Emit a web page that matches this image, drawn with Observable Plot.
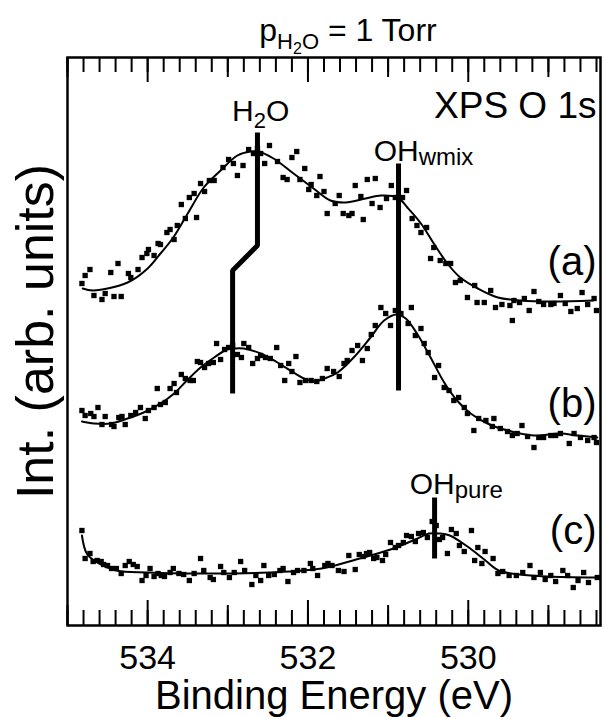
<!DOCTYPE html>
<html>
<head>
<meta charset="utf-8">
<script src="https://cdn.jsdelivr.net/npm/d3@7"></script>
<script src="https://cdn.jsdelivr.net/npm/@observablehq/plot@0.6"></script>
<style>
  html, body { margin: 0; padding: 0; background: #fff; }
  #chart svg { display: block; }
</style>
</head>
<body>
<div id="chart"></div>
<script>
// ---- Data: [binding energy (eV), intensity (arb. units)] ----
const spectrumA = [[534.82,342],[534.78,350],[534.72,356],[534.67,330],[534.57,326],[534.53,332],[534.46,353],[534.42,329],[534.37,362],[534.33,329],[534.24,352],[534.21,348],[534.12,356],[534.07,368],[534.01,372],[533.99,376],[533.92,370],[533.87,382],[533.84,381],[533.76,393],[533.72,396],[533.67,386],[533.63,400],[533.58,421],[533.53,407],[533.48,428],[533.42,432],[533.39,408],[533.34,442],[533.29,434],[533.23,445],[533.17,445],[533.06,458],[532.99,466],[532.93,462],[532.88,450],[532.81,460],[532.74,476],[532.68,472],[532.63,477],[532.59,472],[532.54,462],[532.48,480],[532.38,464],[532.31,448],[532.26,446],[532.20,468],[532.14,474],[532.10,446],[532.04,457],[531.99,436],[531.96,441],[531.89,430],[531.85,449],[531.80,434],[531.76,412],[531.66,422],[531.61,430],[531.56,412],[531.49,410],[531.45,412],[531.41,440],[531.34,429],[531.31,406],[531.26,446],[531.20,422],[531.16,447],[531.10,418],[531.02,427],[530.96,440],[530.91,428],[530.82,428],[530.77,435],[530.70,407],[530.64,400],[530.59,393],[530.52,398],[530.47,367],[530.43,378],[530.35,365],[530.28,362],[530.22,362],[530.16,343],[530.10,345],[530.01,328],[529.92,340],[529.89,323],[529.80,323],[529.72,335],[529.66,318],[529.58,321],[529.48,320],[529.45,305],[529.43,325],[529.36,323],[529.30,327],[529.24,315],[529.18,334],[529.12,324],[529.06,321],[528.97,321],[528.93,322],[528.85,330],[528.79,322],[528.72,314],[528.64,317],[528.58,333],[528.51,321],[528.43,327],[528.40,315]];
const fitA = [[534.81,337],[534.68,335],[534.25,343],[534.00,357],[533.84,372],[533.68,388],[533.50,412],[533.30,438],[533.09,455],[532.88,470],[532.72,474],[532.62,474],[532.43,467],[532.18,452],[531.93,437],[531.72,425],[531.53,423],[531.28,427],[531.09,430],[530.88,428],[530.76,418],[530.59,402],[530.43,382],[530.26,362],[530.10,348],[529.88,337],[529.63,328],[529.35,325],[528.94,324],[528.44,325]];

const spectrumB = [[534.82,215],[534.78,210],[534.71,212],[534.67,209],[534.62,218],[534.57,201],[534.53,209],[534.45,201],[534.42,199],[534.36,208],[534.32,209],[534.28,201],[534.21,210],[534.15,213],[534.09,218],[534.03,207],[533.99,215],[533.92,218],[533.88,237],[533.84,221],[533.78,223],[533.72,237],[533.67,242],[533.64,233],[533.58,251],[533.53,247],[533.47,245],[533.43,245],[533.38,264],[533.34,263],[533.29,258],[533.24,262],[533.18,263],[533.14,282],[533.09,266],[533.04,276],[532.99,278],[532.94,280],[532.88,271],[532.83,268],[532.80,282],[532.74,278],[532.69,262],[532.63,267],[532.59,270],[532.53,268],[532.47,267],[532.39,278],[532.34,260],[532.29,245],[532.24,262],[532.20,254],[532.15,269],[532.10,243],[532.03,245],[531.96,245],[531.89,244],[531.82,247],[531.76,257],[531.68,254],[531.61,249],[531.55,262],[531.51,265],[531.45,275],[531.38,280],[531.32,265],[531.26,277],[531.21,291],[531.16,300],[531.09,318],[531.03,312],[530.97,300],[530.91,315],[530.84,312],[530.75,302],[530.71,318],[530.66,290],[530.59,297],[530.55,282],[530.50,273],[530.42,248],[530.37,260],[530.30,238],[530.24,235],[530.18,225],[530.12,228],[530.05,218],[530.01,212],[529.93,195],[529.87,207],[529.78,205],[529.70,199],[529.68,207],[529.60,197],[529.51,194],[529.45,190],[529.39,192],[529.33,200],[529.26,189],[529.18,178],[529.12,188],[529.06,188],[528.97,190],[528.91,190],[528.85,192],[528.74,182],[528.68,192],[528.60,188],[528.51,185],[528.43,188],[528.40,183]];
const fitB = [[534.82,204],[534.67,202],[534.46,202],[534.25,207],[534.05,213],[533.84,222],[533.67,232],[533.51,245],[533.34,258],[533.17,268],[533.01,276],[532.92,277],[532.80,277],[532.59,272],[532.38,263],[532.18,253],[532.05,247],[531.93,244],[531.76,248],[531.63,253],[531.43,268],[531.22,288],[531.05,305],[530.89,311],[530.78,307],[530.64,292],[530.47,268],[530.30,243],[530.14,225],[529.97,212],[529.76,202],[529.51,195],[529.18,190],[528.85,192],[528.64,190],[528.39,188]];

const spectrumC = [[534.82,95],[534.78,67],[534.72,72],[534.68,64],[534.63,65],[534.58,64],[534.55,61],[534.50,60],[534.45,57],[534.39,57],[534.33,52],[534.28,60],[534.23,64],[534.18,61],[534.13,59],[534.07,45],[534.02,50],[533.97,57],[533.92,49],[533.87,52],[533.83,50],[533.79,49],[533.72,53],[533.68,57],[533.61,52],[533.55,51],[533.48,45],[533.42,52],[533.34,67],[533.30,55],[533.22,48],[533.18,46],[533.09,59],[533.05,53],[532.98,48],[532.92,53],[532.84,64],[532.79,55],[532.70,41],[532.65,50],[532.59,45],[532.55,60],[532.49,50],[532.42,51],[532.35,55],[532.31,57],[532.25,44],[532.18,53],[532.13,55],[532.05,55],[531.97,62],[531.94,57],[531.88,50],[531.79,60],[531.75,62],[531.70,60],[531.62,55],[531.55,54],[531.49,70],[531.41,56],[531.36,71],[531.31,69],[531.27,72],[531.23,73],[531.18,67],[531.14,68],[531.07,65],[531.03,71],[530.97,83],[530.91,78],[530.87,80],[530.81,83],[530.77,90],[530.71,89],[530.66,84],[530.62,92],[530.56,93],[530.51,88],[530.45,104],[530.40,100],[530.36,86],[530.32,88],[530.26,72],[530.21,96],[530.15,92],[530.11,80],[530.05,74],[529.96,95],[529.92,65],[529.88,78],[529.83,62],[529.79,74],[529.69,67],[529.63,52],[529.57,54],[529.49,50],[529.40,50],[529.32,53],[529.23,60],[529.18,48],[529.10,53],[529.04,46],[528.97,50],[528.91,44],[528.82,55],[528.76,50],[528.69,38],[528.63,45],[528.56,53],[528.50,43],[528.39,48]];
const fitC = [[534.82,90],[534.76,72],[534.65,64],[534.39,55],[534.00,53],[533.35,52],[532.49,53],[531.83,57],[531.40,66],[530.97,76],[530.66,86],[530.49,92],[530.36,92],[530.23,90],[530.01,79],[529.80,66],[529.62,55],[529.36,51],[529.01,49],[528.41,48]];

// Peak marker lines [energy, intensity]
const markerH2O = [[532.63,493],[532.63,380],[532.94,355],[532.94,232]];
const markerOHwmix = [[530.87,462],[530.87,235]];
const markerOHpure = [[530.42,128],[530.42,67]];

// Annotation labels
const peakLabelCentered = [{text: "H2O", x: 532.59, y: 505}];
const peakLabelsStart = [{text: "OHwmix", x: 531.18, y: 465}, {text: "OHpure", x: 530.73, y: 132}];
const spectrumNames = ["(a)", "(b)", "(c)"];
const spectrumNameLevels = [351, 209, 82];

// Axis ticks
const xDomain = [535, 528.35];
const yDomain = [0, 568];
const minorTicks = [535,534.8,534.6,534.4,534.2,534,533.8,533.6,533.4,533.2,533,532.8,532.6,532.4,532.2,532,531.8,531.6,531.4,531.2,531,530.8,530.6,530.4,530.2,530,529.8,529.6,529.4,529.2,529,528.8,528.6,528.4];
const mediumTicks = [535, 533, 531, 529];
const majorTicks = [534, 532, 530];
const tickLabels = ["534", "532", "530"];

const titleText = "pH2O = 1 Torr";
const xLabel = "Binding Energy (eV)";
const yLabel = "Int. (arb. units)";
const panelTitle = "XPS O 1s";

// ---- Layout ----
const W = 605, H = 717;
const mTop = 57, mBottom = 92, mLeft = 67, mRight = 5;
const font = "'Liberation Sans', Arial, Helvetica, sans-serif";
const ex = d => d[0], iy = d => d[1];
const yMin = yDomain[0], yMax = yDomain[1];

// tick length expressed in y units (1 unit = 1 px here)
const tickRules = (ticks, len) => [
  Plot.ruleX(ticks, {x: d => d, y1: yMin, y2: yMin + len, stroke: "black", strokeWidth: 2}),
  Plot.ruleX(ticks, {x: d => d, y1: yMax - len, y2: yMax, stroke: "black", strokeWidth: 2})
];

const chart = Plot.plot({
  width: W, height: H,
  marginTop: mTop, marginBottom: mBottom, marginLeft: mLeft, marginRight: mRight,
  style: {fontFamily: font, background: "white", color: "black", overflow: "visible"},
  x: {domain: xDomain, axis: null},
  y: {domain: yDomain, axis: null},
  marks: [
    ...tickRules(minorTicks, 15),
    ...tickRules(mediumTicks, 20),
    ...tickRules(majorTicks, 25),
    Plot.frame({stroke: "black", strokeWidth: 2.5}),
    // fits
    Plot.line(fitA, {x: ex, y: iy, curve: "catmull-rom", stroke: "black", strokeWidth: 2}),
    Plot.line(fitB, {x: ex, y: iy, curve: "catmull-rom", stroke: "black", strokeWidth: 2}),
    Plot.line(fitC, {x: ex, y: iy, curve: "catmull-rom", stroke: "black", strokeWidth: 2}),
    // data points
    Plot.dot(spectrumA, {x: ex, y: iy, symbol: "square", r: 3, fill: "black", stroke: null}),
    Plot.dot(spectrumB, {x: ex, y: iy, symbol: "square", r: 3, fill: "black", stroke: null}),
    Plot.dot(spectrumC, {x: ex, y: iy, symbol: "square", r: 3, fill: "black", stroke: null}),
    // peak markers
    Plot.line(markerH2O, {x: ex, y: iy, stroke: "black", strokeWidth: 5, strokeLinejoin: "miter", strokeLinecap: "butt"}),
    Plot.line(markerOHwmix, {x: ex, y: iy, stroke: "black", strokeWidth: 5, strokeLinecap: "butt"}),
    Plot.line(markerOHpure, {x: ex, y: iy, stroke: "black", strokeWidth: 5, strokeLinecap: "butt"}),
    // peak labels
    Plot.text(peakLabelCentered, {x: "x", y: "y", text: "text", textAnchor: "middle", lineAnchor: "bottom", fontSize: 30, fill: "black"}),
    Plot.text(peakLabelsStart, {x: "x", y: "y", text: "text", textAnchor: "start", lineAnchor: "bottom", fontSize: 30, fill: "black"}),
    // spectrum names
    Plot.text(spectrumNames, {text: d => d, y: (d, i) => spectrumNameLevels[i], frameAnchor: "right", textAnchor: "end", lineAnchor: "bottom", dx: -4, fontSize: 40, fill: "black"}),
    // panel title
    Plot.text([panelTitle], {text: d => d, frameAnchor: "top-right", textAnchor: "end", lineAnchor: "bottom", dx: -4, dy: 60, fontSize: 37, fill: "black"}),
    // tick labels
    Plot.text(majorTicks, {x: d => d, text: (d, i) => tickLabels[i], frameAnchor: "bottom", textAnchor: "middle", lineAnchor: "bottom", dy: 43, fontSize: 34, fill: "black"}),
    // axis labels
    Plot.text([xLabel], {text: d => d, frameAnchor: "bottom", textAnchor: "middle", lineAnchor: "bottom", dy: 83, fontSize: 40, fill: "black"}),
    Plot.text([yLabel], {text: d => d, frameAnchor: "left", textAnchor: "middle", rotate: -90, lineAnchor: "bottom", dx: -15, dy: -10, fontSize: 52, fill: "black"}),
    // title
    Plot.text([titleText], {text: d => d, frameAnchor: "top", textAnchor: "middle", lineAnchor: "bottom", dx: 14, dy: -17, fontSize: 32, fill: "black"})
  ]
});

document.getElementById("chart").appendChild(chart);

// ---- Rich text (subscripts) ----
function richText(match, parts) {
  d3.select(chart).selectAll("text")
    .filter(function () { return this.textContent === match; })
    .each(function () {
      const t = d3.select(this);
      t.text(null);
      for (const p of parts) {
        const s = t.append("tspan").text(p.text);
        if (p.size) s.attr("font-size", p.size);
        if (p.dy) s.attr("dy", p.dy);
      }
    });
}
richText("pH2O = 1 Torr", [
  {text: "p"},
  {text: "H", size: 22, dy: 8},
  {text: "2", size: 16, dy: 5},
  {text: "O", size: 22, dy: -5},
  {text: " = 1 Torr", size: 32, dy: -8}
]);
richText("H2O", [
  {text: "H"},
  {text: "2", size: 22, dy: 7},
  {text: "O", size: 30, dy: -7}
]);
richText("OHwmix", [
  {text: "OH"},
  {text: "wmix", size: 24, dy: 4}
]);
richText("OHpure", [
  {text: "OH"},
  {text: "pure", size: 24, dy: 4}
]);
</script>
</body>
</html>
